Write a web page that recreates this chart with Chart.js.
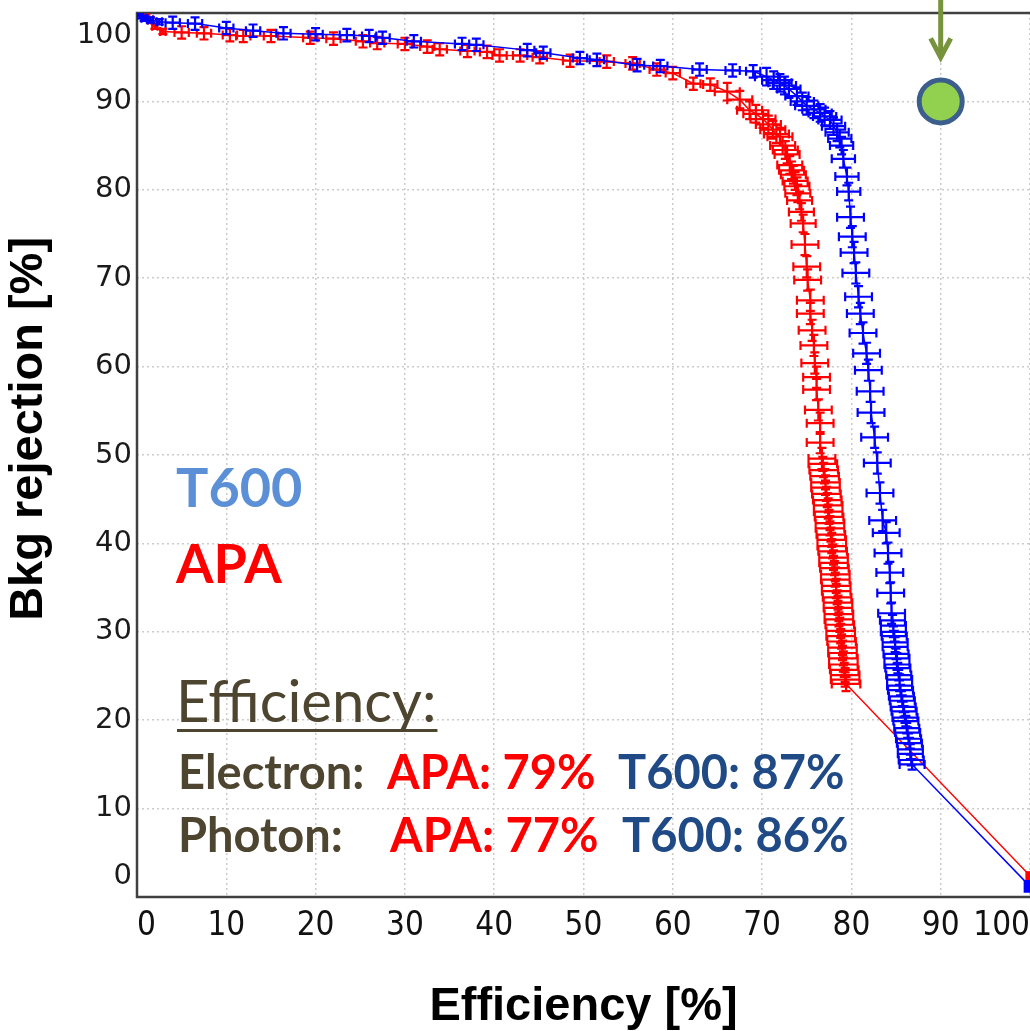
<!DOCTYPE html>
<html><head><meta charset="utf-8">
<script src="https://cdn.jsdelivr.net/npm/chart.js@4/dist/chart.umd.min.js"></script>
<style>html,body{margin:0;padding:0;background:#fff;overflow:hidden}canvas{display:block}</style>
</head><body>
<canvas id="c" width="1030" height="1031"></canvas>
<script>
// ---------- data ----------
const xTicks = [0, 10, 20, 30, 40, 50, 60, 70, 80, 90, 100];
const yTicks = [0, 10, 20, 30, 40, 50, 60, 70, 80, 90, 100];

const t600Eff = [
  0.0, 0.3, 0.8, 1.5, 2.5, 4.0, 6.5, 10.0, 13.0, 16.4,
  20.0, 23.5, 26.0, 27.5, 31.0, 36.4, 38.0, 43.7, 45.5, 49.6,
  51.5, 56.0, 58.6, 63.0, 66.7, 69.0,
  70.5, 71.3, 72.0, 72.5, 73.0, 73.9, 74.5, 75.0, 75.8, 76.5,
  77.0, 77.6, 78.0, 78.4, 78.7, 78.9, 79.1, 79.5, 79.7,
  79.9, 80.1, 80.3, 80.5, 80.8, 81.0, 81.3, 81.7, 81.9, 82.1,
  82.2, 82.6, 82.9, 83.2, 83.5, 83.9, 84.1, 84.3, 84.4, 84.5,
  84.6, 84.7, 84.7, 84.8, 84.9, 84.9, 85.0, 85.1, 85.1, 85.2,
  85.3, 85.4, 85.4, 85.5, 85.6, 85.7, 85.8, 85.9, 86.0, 86.1,
  86.2, 86.3, 86.4, 86.5, 86.6, 86.6, 86.7, 86.8,
  100.0
];
const t600Rej = [
  100.0, 99.7, 99.4, 99.2, 99.0, 98.9, 98.8, 98.3, 98.0, 97.7,
  97.6, 97.5, 97.4, 97.2, 96.8, 96.5, 96.4, 95.8, 95.5, 94.9,
  94.7, 94.1, 94.0, 93.6, 93.5, 93.4,
  92.8, 92.4, 92.1, 91.8, 91.4, 90.6, 90.0, 89.5, 89.1, 88.7,
  88.3, 87.9, 87.2, 86.5, 85.8, 85.0, 83.5, 81.5, 79.8,
  76.9, 74.7, 72.9, 70.6, 67.9, 66.0, 63.8, 61.5, 59.6, 57.2,
  54.8, 52.0, 49.1, 45.7, 42.6, 41.2, 38.9, 36.7, 34.4, 32.1,
  31.3, 30.7, 30.0, 29.5, 28.8, 28.3, 27.5, 27.0, 26.3, 25.9,
  25.1, 24.6, 23.9, 23.4, 22.7, 22.2, 21.5, 21.0, 20.3, 19.9,
  19.1, 18.6, 17.9, 17.4, 16.7, 16.2, 15.5, 15.0,
  1.2
];
const t600EffErr = [
  0.3, 0.3, 0.3, 0.3, 0.3, 0.8, 0.8, 0.8, 0.8, 0.8,
  0.8, 0.8, 0.8, 0.8, 0.8, 0.8, 0.8, 0.8, 0.8, 0.8,
  0.8, 0.8, 0.8, 0.8, 0.8, 0.8,
  1.3, 1.3, 1.3, 1.3, 1.3, 1.3, 1.3, 1.3, 1.3, 1.3,
  1.3, 1.3, 1.3, 1.3, 1.3, 1.3, 1.3, 1.3, 1.3,
  1.5, 1.5, 1.5, 1.5, 1.5, 1.5, 1.5, 1.5, 1.5, 1.5,
  1.5, 1.5, 1.5, 1.5, 1.5, 1.5, 1.5, 1.5, 1.5, 1.5,
  1.4, 1.4, 1.4, 1.4, 1.4, 1.4, 1.4, 1.4, 1.4, 1.4,
  1.4, 1.4, 1.4, 1.4, 1.4, 1.4, 1.4, 1.4, 1.4, 1.4,
  1.4, 1.4, 1.4, 1.4, 1.4, 1.4, 1.4, 1.4,
  0
];
const t600RejErr = [
  0.3, 0.3, 0.3, 0.3, 0.3, 0.7, 0.7, 0.7, 0.7, 0.7,
  0.7, 0.7, 0.7, 0.7, 0.7, 0.7, 0.7, 0.7, 0.7, 0.7,
  0.7, 0.7, 0.7, 0.7, 0.7, 0.7,
  1.0, 1.0, 1.0, 1.0, 1.0, 1.0, 1.0, 1.0, 1.0, 1.0,
  1.0, 1.0, 1.0, 1.0, 1.0, 1.0, 1.0, 1.0, 1.0,
  1.2, 1.2, 1.2, 1.2, 1.2, 1.2, 1.2, 1.2, 1.2, 1.2,
  1.2, 1.2, 1.2, 1.2, 1.2, 1.2, 1.2, 1.2, 1.2, 1.2,
  0.6, 0.6, 0.6, 0.6, 0.6, 0.6, 0.6, 0.6, 0.6, 0.6,
  0.6, 0.6, 0.6, 0.6, 0.6, 0.6, 0.6, 0.6, 0.6, 0.6,
  0.6, 0.6, 0.6, 0.6, 0.6, 0.6, 0.6, 0.6,
  0
];

const apaEff = [
  0.0, 1.0, 1.5, 2.0, 2.9, 5.0, 7.5, 10.4, 11.9, 15.0,
  19.4, 22.0, 25.3, 26.9, 30.0, 32.5, 33.9, 37.0, 39.2, 40.6,
  42.9, 45.1, 48.5, 52.6, 55.5, 58.2, 60.0, 62.3, 64.2,
  66.1, 67.5, 68.6, 69.3, 70.1, 70.7, 71.2, 71.6, 72.0, 72.3,
  72.6, 72.8, 73.1, 73.3, 73.5, 73.7, 73.9, 74.0, 74.2, 74.4, 74.6,
  74.8, 75.0, 75.1, 75.4, 75.4, 75.6, 75.8, 75.9, 76.1, 76.1,
  76.3, 76.5, 76.5, 76.7,
  76.8, 76.9, 77.0, 77.1, 77.1, 77.2, 77.3, 77.4, 77.4, 77.5,
  77.6, 77.6, 77.7, 77.8, 77.8, 77.9, 78.0, 78.0, 78.1, 78.2,
  78.2, 78.3, 78.3, 78.4, 78.5, 78.5, 78.6, 78.6, 78.7, 78.8,
  78.8, 78.9, 79.0, 79.0, 79.1, 79.1, 79.2, 79.3, 79.3, 79.4,
  100.0
];
const apaRej = [
  100.0, 99.5, 99.2, 98.5, 97.9, 97.8, 97.7, 97.5, 97.4, 97.4,
  97.2, 97.1, 96.8, 96.6, 96.5, 96.2, 95.9, 95.7, 95.6, 95.2,
  95.2, 95.0, 94.6, 94.5, 94.3, 93.6, 93.2, 92.0, 91.9,
  91.1, 90.2, 89.0, 88.6, 88.0, 87.4, 86.8, 86.3, 86.0, 85.0,
  84.5, 84.0, 82.8, 82.2, 81.7, 81.0, 80.4, 79.6, 78.8, 77.5, 76.2,
  73.8, 71.3, 69.8, 67.5, 66.0, 64.1, 62.4, 60.4, 58.8, 57.4,
  55.1, 53.6, 51.4, 49.6,
  49.0, 48.3, 47.6, 46.9, 46.3, 45.6, 44.9, 44.3, 43.6, 43.0,
  42.3, 41.7, 41.0, 40.4, 39.7, 39.1, 38.4, 37.8, 37.2, 36.5,
  35.9, 35.2, 34.6, 33.9, 33.3, 32.7, 32.0, 31.4, 30.8, 30.1,
  29.5, 28.9, 28.2, 27.6, 27.0, 26.3, 25.7, 25.1, 24.6, 24.1,
  2.4
];
const apaEffErr = [
  0.3, 0.3, 0.3, 0.3, 0.3, 0.8, 0.8, 0.8, 0.8, 0.8,
  0.8, 0.8, 0.8, 0.8, 0.8, 0.8, 0.8, 0.8, 0.8, 0.8,
  0.8, 0.8, 0.8, 0.8, 0.8, 0.8, 0.8, 0.8, 0.8,
  1.4, 1.4, 1.4, 1.4, 1.4, 1.4, 1.4, 1.4, 1.4, 1.4,
  1.4, 1.4, 1.4, 1.4, 1.4, 1.4, 1.4, 1.4, 1.4, 1.4, 1.4,
  1.5, 1.5, 1.5, 1.5, 1.5, 1.5, 1.5, 1.5, 1.5, 1.5,
  1.5, 1.5, 1.5, 1.5,
  1.6, 1.6, 1.6, 1.6, 1.6, 1.6, 1.6, 1.6, 1.6, 1.6,
  1.6, 1.6, 1.6, 1.6, 1.6, 1.6, 1.6, 1.6, 1.6, 1.6,
  1.6, 1.6, 1.6, 1.6, 1.6, 1.6, 1.6, 1.6, 1.6, 1.6,
  1.6, 1.6, 1.6, 1.6, 1.6, 1.6, 1.6, 1.6, 1.6, 1.6,
  0
];
const apaRejErr = [
  0.3, 0.3, 0.3, 0.3, 0.3, 0.7, 0.7, 0.7, 0.7, 0.7,
  0.7, 0.7, 0.7, 0.7, 0.7, 0.7, 0.7, 0.7, 0.7, 0.7,
  0.7, 0.7, 0.7, 0.7, 0.7, 0.7, 0.7, 0.7, 0.7,
  1.0, 1.0, 1.0, 1.0, 1.0, 1.0, 1.0, 1.0, 1.0, 1.0,
  1.0, 1.0, 1.0, 1.0, 1.0, 1.0, 1.0, 1.0, 1.0, 1.0, 1.0,
  1.2, 1.2, 1.2, 1.2, 1.2, 1.2, 1.2, 1.2, 1.2, 1.2,
  1.2, 1.2, 1.2, 1.2,
  0.8, 0.8, 0.8, 0.8, 0.8, 0.8, 0.8, 0.8, 0.8, 0.8,
  0.8, 0.8, 0.8, 0.8, 0.8, 0.8, 0.8, 0.8, 0.8, 0.8,
  0.8, 0.8, 0.8, 0.8, 0.8, 0.8, 0.8, 0.8, 0.8, 0.8,
  0.8, 0.8, 0.8, 0.8, 0.8, 0.8, 0.8, 0.8, 0.8, 0.8,
  0
];

const goalEff = [90];
const goalRej = [90];

const seriesNames = ['T600', 'APA'];
const efficiencyTitle = 'Efficiency:';
const electronLine = [['Electron:', 'olive'], ['APA: 79%', 'red'], ['T600: 87%', 'navy']];
const photonLine = [['Photon:', 'olive'], ['APA: 77%', 'red'], ['T600: 86%', 'navy']];

// ---------- helpers ----------
const toPts = (xs, ys) => xs.map((x, i) => ({ x: x, y: ys[i] }));
const COL = { red: '#ff0000', blue: '#0000ff', olive: '#4d4530', navy: '#1f4a85', light: '#5b8fd6' };

const errorBars = {
  id: 'errorBars',
  afterDatasetDraw(chart, args) {
    const ds = chart.data.datasets[args.index];
    if (!ds.errX) return;
    const xs = chart.scales.x, ys = chart.scales.y, ctx = chart.ctx, a = chart.chartArea;
    ctx.save();
    ctx.beginPath();
    ctx.rect(a.left, a.top, a.right - a.left, a.bottom - a.top);
    ctx.clip();
    ctx.strokeStyle = ds.borderColor;
    ctx.lineWidth = 2.2;
    const cap = 4.5;
    ctx.beginPath();
    ds.data.forEach((p, i) => {
      const px = xs.getPixelForValue(p.x), py = ys.getPixelForValue(p.y);
      const ex = ds.errX[i], ey = ds.errY[i];
      if (ex > 0) {
        const x1 = xs.getPixelForValue(p.x - ex), x2 = xs.getPixelForValue(p.x + ex);
        ctx.moveTo(x1, py); ctx.lineTo(x2, py);
        ctx.moveTo(x1, py - cap); ctx.lineTo(x1, py + cap);
        ctx.moveTo(x2, py - cap); ctx.lineTo(x2, py + cap);
      }
      if (ey > 0) {
        const y1 = ys.getPixelForValue(p.y - ey), y2 = ys.getPixelForValue(p.y + ey);
        ctx.moveTo(px, y1); ctx.lineTo(px, y2);
        ctx.moveTo(px - cap, y1); ctx.lineTo(px + cap, y1);
        ctx.moveTo(px - cap, y2); ctx.lineTo(px + cap, y2);
      }
    });
    ctx.stroke();
    ctx.restore();
  }
};

const frame = {
  id: 'frame',
  beforeDatasetsDraw(chart) {
    const { ctx, chartArea: a } = chart;
    ctx.save();
    ctx.strokeStyle = '#404040';
    ctx.lineWidth = 2.5;
    ctx.beginPath();
    ctx.moveTo(a.right + 2, a.top);
    ctx.lineTo(a.left, a.top);
    ctx.lineTo(a.left, a.bottom);
    ctx.lineTo(a.right + 2, a.bottom);
    ctx.stroke();
    ctx.restore();
  }
};

const yLabelNudge = {
  id: 'yLabelNudge',
  beforeDraw(chart) {
    const s = chart.scales.y;
    const items = s.getLabelItems(chart.chartArea);
    if (!items || !items.length || items._nudged) return;
    const first = items[0], last = items[items.length - 1];
    first.options.translation = [first.options.translation[0], first.options.translation[1] - 21];
    last.options.translation = [last.options.translation[0], last.options.translation[1] + 22];
    items._nudged = true;
  }
};

const annotations = {
  id: 'annotations',
  afterDraw(chart) {
    const ctx = chart.ctx;
    const xs = chart.scales.x, ys = chart.scales.y;
    ctx.save();
    ctx.textAlign = 'left';
    ctx.textBaseline = 'alphabetic';
    // series labels
    ctx.font = 'bold 54px Lato, "Open Sans", sans-serif';
    ctx.fillStyle = COL.light;
    ctx.fillText(seriesNames[0], 176, 507);
    ctx.fillStyle = COL.red;
    ctx.fillText(seriesNames[1], 176, 583);
    // Efficiency:
    ctx.font = '58px Lato, "Open Sans", sans-serif';
    ctx.fillStyle = COL.olive;
    ctx.fillText(efficiencyTitle, 176, 722);
    const w = ctx.measureText(efficiencyTitle).width;
    ctx.fillRect(177, 729, w, 3);
    // lines
    ctx.font = 'bold 47px Lato, "Open Sans", sans-serif';
    const lineX = [178, 387, 618];
    electronLine.forEach((seg, i) => { ctx.fillStyle = COL[seg[1]]; ctx.fillText(seg[0], lineX[i], 789); });
    const lineX2 = [178, 390, 622];
    photonLine.forEach((seg, i) => { ctx.fillStyle = COL[seg[1]]; ctx.fillText(seg[0], lineX2[i], 852); });
    // arrow to goal point
    const gx = xs.getPixelForValue(goalEff[0]);
    const gy = ys.getPixelForValue(goalRej[0]);
    ctx.strokeStyle = '#77933c';
    ctx.lineWidth = 5;
    ctx.lineCap = 'butt';
    ctx.beginPath();
    ctx.moveTo(gx, 0);
    ctx.lineTo(gx, gy - 44);
    ctx.stroke();
    ctx.beginPath();
    ctx.lineJoin = 'miter';
    ctx.moveTo(gx - 10, gy - 63);
    ctx.lineTo(gx, gy - 44);
    ctx.lineTo(gx + 10, gy - 63);
    ctx.stroke();
    ctx.restore();
  }
};

const lastSquare = (n, r) => (c) => (c.dataIndex === n - 1 ? r : 0);

new Chart(document.getElementById('c'), {
  type: 'scatter',
  data: {
    datasets: [
      {
        label: 'goal',
        data: toPts(goalEff, goalRej),
        pointRadius: 21.5,
        pointBorderWidth: 5,
        backgroundColor: '#92d050',
        borderColor: '#3b5e8c',
        clip: false,
        order: 0
      },
      {
        label: seriesNames[0],
        data: toPts(t600Eff, t600Rej),
        errX: t600EffErr,
        errY: t600RejErr,
        showLine: true,
        borderColor: COL.blue,
        backgroundColor: COL.blue,
        borderWidth: 1.5,
        pointStyle: 'rect',
        pointRadius: lastSquare(t600Eff.length, 9),
        pointBorderWidth: 0,
        order: 1
      },
      {
        label: seriesNames[1],
        data: toPts(apaEff, apaRej),
        errX: apaEffErr,
        errY: apaRejErr,
        showLine: true,
        borderColor: COL.red,
        backgroundColor: COL.red,
        borderWidth: 1.5,
        pointStyle: 'rect',
        pointRadius: lastSquare(apaEff.length, 6.5),
        pointBorderWidth: 0,
        order: 2
      }
    ]
  },
  options: {
    responsive: false,
    animation: false,
    events: [],
    layout: { autoPadding: false, padding: { top: 13, left: 0, right: 0, bottom: 0 } },
    plugins: { legend: { display: false }, tooltip: { enabled: false } },
    scales: {
      x: {
        type: 'linear', min: 0, max: 100,
        afterBuildTicks: (s) => { s.ticks = xTicks.map(v => ({ value: v })); },
        afterFit: (s) => { s.height = 134; s.paddingLeft = 0; s.paddingRight = 0; },
        grid: { color: '#cccccc', lineWidth: 1.5, drawTicks: false },
        border: { display: false, dash: [2, 3] },
        ticks: {
          align: 'inner', padding: 10, color: '#111111', maxRotation: 0, autoSkip: false,
          font: { family: '"Liberation Sans Narrow", "DejaVu Sans Condensed", "Liberation Sans", sans-serif', size: 33 }
        },
        title: {
          display: true, text: 'Efficiency [%]', color: '#000',
          font: { family: '"Liberation Sans", Arial, sans-serif', size: 47, weight: 'bold', lineHeight: 1 },
          padding: { top: 0, bottom: 0 }
        }
      },
      y: {
        type: 'linear', min: 0, max: 100,
        afterBuildTicks: (s) => { s.ticks = yTicks.map(v => ({ value: v })); },
        afterFit: (s) => { s.width = 137; s.paddingTop = 0; s.paddingBottom = 0; },
        grid: { color: '#cccccc', lineWidth: 1.5, drawTicks: false },
        border: { display: false, dash: [2, 3] },
        ticks: {
          padding: 5, color: '#1a1a1a', autoSkip: false,
          font: { family: '"DejaVu Sans", Verdana, sans-serif', size: 29 }
        },
        title: {
          display: true, text: '    Bkg rejection [%]', color: '#000',
          font: { family: '"Liberation Sans", Arial, sans-serif', size: 47, weight: 'bold', lineHeight: 1 },
          padding: { top: 6, bottom: 0 }
        }
      }
    }
  },
  plugins: [yLabelNudge, frame, errorBars, annotations]
});
</script>
</body></html>
